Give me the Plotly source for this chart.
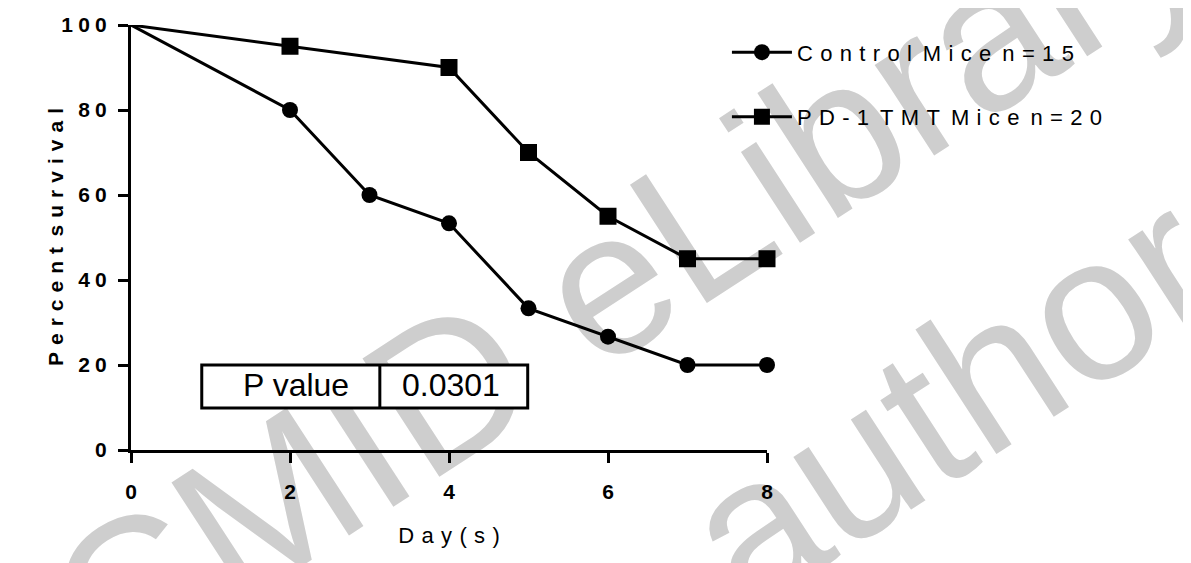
import plotly.graph_objects as go

# ---------------- data ----------------
days_control = [0, 2, 3, 4, 5, 6, 7, 8]
surv_control = [100, 80, 60, 53.33, 33.33, 26.67, 20, 20]
days_pd1 = [0, 2, 4, 5, 6, 7, 8]
surv_pd1 = [100, 95, 90, 70, 55, 45, 45]
series_names = ["Control Mice n=15", "PD-1 TMT Mice n=20"]
x_ticks = [0, 2, 4, 6, 8]
y_ticks = [0, 20, 40, 60, 80, 100]
x_title = "Day(s)"
y_title = "Percent survival"
p_label = "P value"
p_value = "0.0301"
watermark_lines = ["CMID eLibrary", "author"]

# ---------------- helpers ----------------
LS = "\u2004"   # letter spacing
WS = "\u2002"   # word spacing
TS = "\u2005"   # tick digit spacing


def spaced(s, sep=LS, word=WS):
    return word.join(sep.join(w) for w in s.split(" "))


FONT = "Liberation Sans, Arial, Helvetica, sans-serif"
BLACK = "#000000"
WM = "#cecece"

fig = go.Figure()

# origin points carry no marker
ctrl_sizes = [0] + [16] * (len(days_control) - 1)
pd1_sizes = [0] + [17] * (len(days_pd1) - 1)

fig.add_trace(go.Scatter(
    x=days_control, y=surv_control, mode="lines+markers",
    line=dict(color=BLACK, width=3),
    marker=dict(symbol="circle", size=ctrl_sizes, color=BLACK, opacity=1,
                line=dict(width=0, color=BLACK)),
    showlegend=False, cliponaxis=False, hoverinfo="x+y"))
fig.add_trace(go.Scatter(
    x=days_pd1, y=surv_pd1, mode="lines+markers",
    line=dict(color=BLACK, width=3),
    marker=dict(symbol="square", size=pd1_sizes, color=BLACK, opacity=1,
                line=dict(width=0, color=BLACK)),
    showlegend=False, cliponaxis=False, hoverinfo="x+y"))

# legend entries
fig.add_trace(go.Scatter(
    x=[None], y=[None], mode="lines+markers", name=spaced(series_names[0]),
    line=dict(color=BLACK, width=3),
    marker=dict(symbol="circle", size=17, color=BLACK), legendgroup="a"))
fig.add_trace(go.Scatter(
    x=[None], y=[None], mode="lines+markers", name=spaced(series_names[1]),
    line=dict(color=BLACK, width=3),
    marker=dict(symbol="square", size=16, color=BLACK), legendgroup="b"))

shapes = []
# watermark (drawn beneath the data)
wm_pos = [(0.761, 0.459), (1.272, 0.158)]
for txt, (px, py) in zip(watermark_lines, wm_pos):
    shapes.append(dict(
        type="rect", xref="paper", yref="paper",
        x0=px - 0.001, x1=px + 0.001, y0=py - 0.001, y1=py + 0.001,
        line=dict(width=0), fillcolor="rgba(0,0,0,0)", layer="below",
        label=dict(text=txt, textangle=-33, textposition="middle center",
                   font=dict(family=FONT, size=205, color=WM))))

# P value table
shapes.append(dict(type="rect", xref="x", yref="y", x0=0.89, x1=4.99, y0=9.9, y1=20,
                   line=dict(color=BLACK, width=3), fillcolor="white", layer="above"))
shapes.append(dict(type="line", xref="x", yref="y", x0=3.13, x1=3.13, y0=9.9, y1=20,
                   line=dict(color=BLACK, width=3), layer="above"))

annotations = [
    dict(x=2.08, y=15.2, xref="x", yref="y", text=p_label, showarrow=False,
         font=dict(family=FONT, size=32, color=BLACK)),
    dict(x=4.02, y=15.2, xref="x", yref="y", text=p_value, showarrow=False,
         font=dict(family=FONT, size=32, color=BLACK)),
    # y-axis title
    dict(x=-0.1187, y=0.5, xref="paper", yref="paper", text=spaced(y_title),
         textangle=-90, showarrow=False, xanchor="center", yanchor="middle",
         font=dict(family=FONT, size=21, color=BLACK, weight="bold")),
]

axis_common = dict(
    showline=True, linewidth=3, linecolor=BLACK, mirror=False,
    ticks="outside", ticklen=10, tickwidth=3, tickcolor=BLACK,
    showgrid=False, zeroline=False, automargin=False,
    tickfont=dict(family=FONT, size=21, color=BLACK, weight="bold"),
)

# the page body adds an 8px margin, so the figure is 8px smaller than the window
fig.update_layout(
    width=1183, height=555,
    margin=dict(l=123, r=424, t=17, b=113, pad=0, autoexpand=False),
    paper_bgcolor="white", plot_bgcolor="rgba(0,0,0,0)",
    xaxis=dict(range=[0, 8], tickvals=x_ticks,
               ticktext=[str(v) for v in x_ticks], ticklabelstandoff=11,
               title=dict(text=spaced(x_title), standoff=26,
                          font=dict(family=FONT, size=22, color=BLACK)),
               **axis_common),
    yaxis=dict(range=[0, 100], tickvals=y_ticks,
               ticktext=[TS.join(str(v)) for v in y_ticks], ticklabelstandoff=7,
               **axis_common),
    legend=dict(x=0.937, y=0.985, xanchor="left", yanchor="top",
                font=dict(family=FONT, size=22, color=BLACK),
                bgcolor="rgba(0,0,0,0)", traceorder="grouped",
                tracegroupgap=33, itemwidth=60),
    shapes=shapes, annotations=annotations,
    showlegend=True,
)

fig.write_html("out.html")
